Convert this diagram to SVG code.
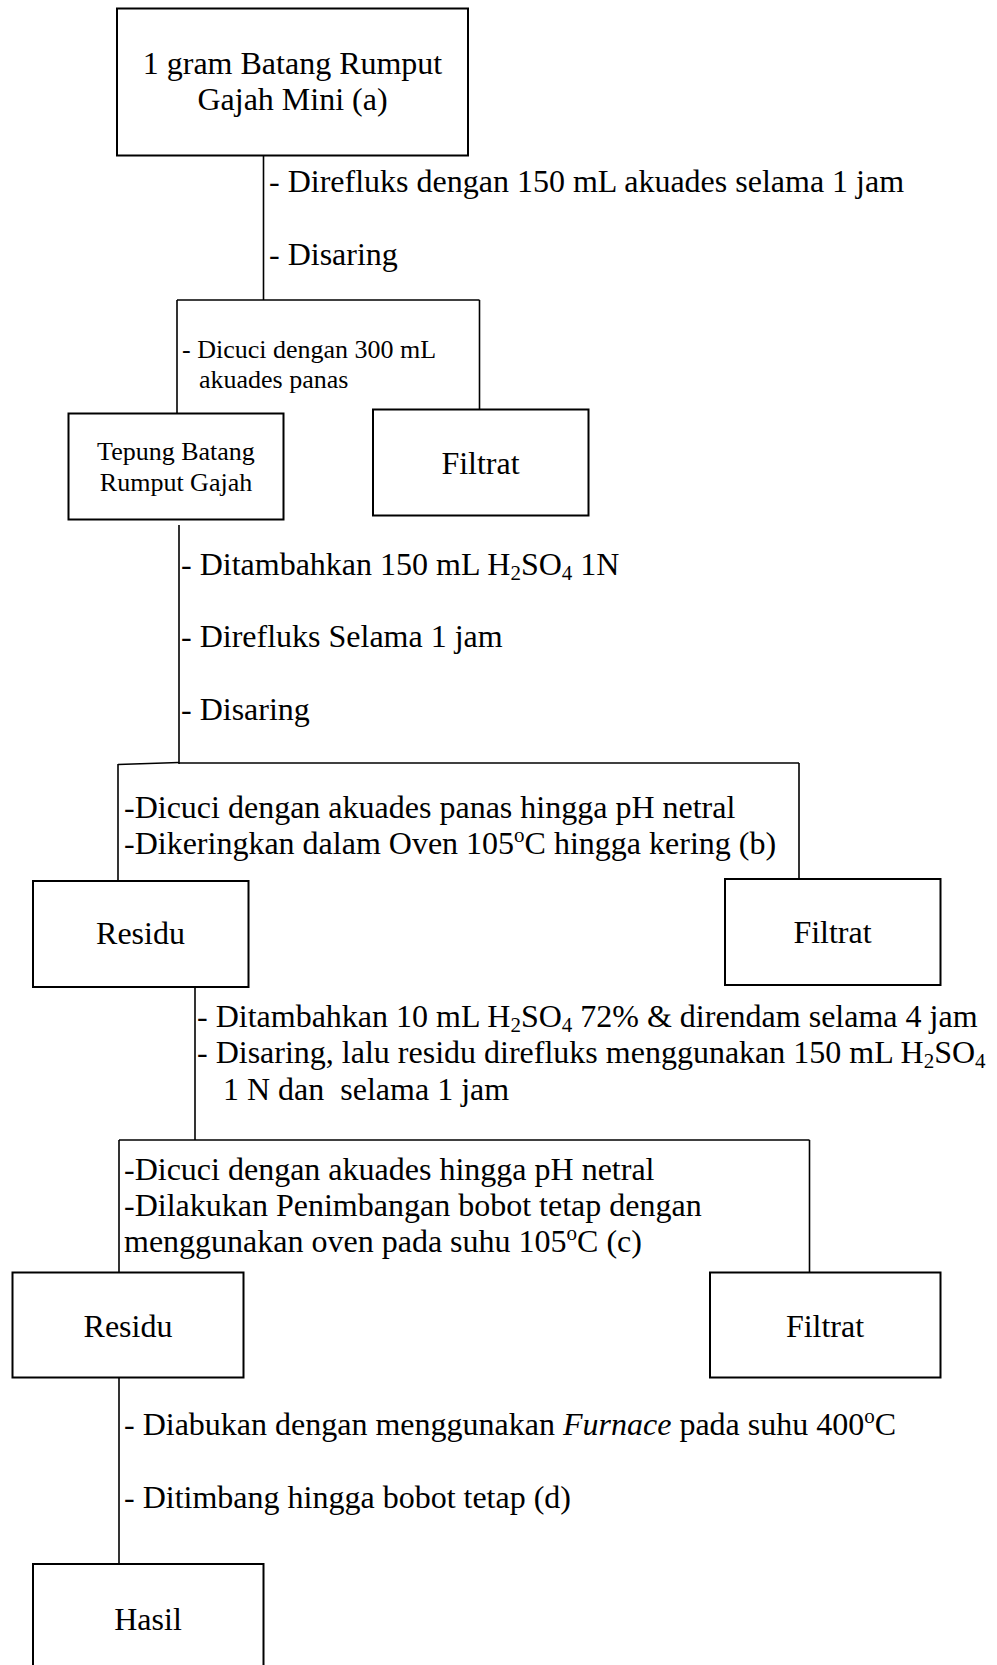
<svg xmlns="http://www.w3.org/2000/svg" width="997" height="1665" viewBox="0 0 997 1665">
<style>
.box{fill:#fff;stroke:#000;stroke-width:2}
.ln{fill:none;stroke:#000;stroke-width:1.6}
text{font-family:"Liberation Serif","Times New Roman",serif;fill:#000}
.t{font-size:32px}
.s{font-size:26px}
.c{text-anchor:middle}
.sub{font-size:21px}
</style>
<rect width="997" height="1665" fill="#fff"/>
<g id="connectors">
<line class="ln" x1="263.5" y1="156" x2="263.5" y2="300"/>
<line class="ln" x1="177" y1="300" x2="479.5" y2="300"/>
<line class="ln" x1="177" y1="300" x2="177" y2="413"/>
<line class="ln" x1="479.5" y1="300" x2="479.5" y2="409"/>
<line class="ln" x1="179" y1="525" x2="179" y2="764"/>
<line class="ln" x1="118" y1="764.5" x2="179" y2="762.5"/>
<line class="ln" x1="179" y1="763" x2="799" y2="763"/>
<line class="ln" x1="118" y1="764" x2="118" y2="881"/>
<line class="ln" x1="799" y1="763" x2="799" y2="879"/>
<line class="ln" x1="195" y1="987" x2="195" y2="1140"/>
<line class="ln" x1="119" y1="1140" x2="809.5" y2="1140"/>
<line class="ln" x1="119" y1="1140" x2="119" y2="1272"/>
<line class="ln" x1="809.5" y1="1140" x2="809.5" y2="1272"/>
<line class="ln" x1="119" y1="1378" x2="119" y2="1564"/>
</g>
<g id="labels">
<text class="t" x="269" y="192">- Direfluks dengan 150 mL akuades selama 1 jam</text>
<text class="t" x="269" y="265">- Disaring</text>
<text class="s" x="182" y="358">- Dicuci dengan 300 mL</text>
<text class="s" x="199" y="388">akuades panas</text>
<text class="t" x="181" y="575">- Ditambahkan 150 mL H<tspan class="sub" dy="5">2</tspan><tspan dy="-5">SO</tspan><tspan class="sub" dy="5">4</tspan><tspan dy="-5"> 1N</tspan></text>
<text class="t" x="181" y="647">- Direfluks Selama 1 jam</text>
<text class="t" x="181" y="720">- Disaring</text>
<text class="t" x="124" y="818">-Dicuci dengan akuades panas hingga pH netral</text>
<text class="t" x="124" y="854">-Dikeringkan dalam Oven 105<tspan class="sub" dy="-12">o</tspan><tspan dy="12">C hingga kering (b)</tspan></text>
<text class="t" x="197" y="1027">- Ditambahkan 10 mL H<tspan class="sub" dy="5">2</tspan><tspan dy="-5">SO</tspan><tspan class="sub" dy="5">4</tspan><tspan dy="-5"> 72% &amp; direndam selama 4 jam</tspan></text>
<text class="t" x="197" y="1063">- Disaring, lalu residu direfluks menggunakan 150 mL H<tspan class="sub" dy="5">2</tspan><tspan dy="-5">SO</tspan><tspan class="sub" dy="5">4</tspan></text>
<text class="t" x="223" y="1100" xml:space="preserve">1 N dan  selama 1 jam</text>
<text class="t" x="124" y="1180">-Dicuci dengan akuades hingga pH netral</text>
<text class="t" x="124" y="1216">-Dilakukan Penimbangan bobot tetap dengan</text>
<text class="t" x="124" y="1252">menggunakan oven pada suhu 105<tspan class="sub" dy="-12">o</tspan><tspan dy="12">C (c)</tspan></text>
<text class="t" x="124" y="1435">- Diabukan dengan menggunakan <tspan font-style="italic">Furnace</tspan> pada suhu 400<tspan class="sub" dy="-12">o</tspan><tspan dy="12">C</tspan></text>
<text class="t" x="124" y="1508">- Ditimbang hingga bobot tetap (d)</text>
</g>
<g id="node-sample">
<rect class="box" x="117" y="8.5" width="351" height="147"/>
<text class="t c" x="292.5" y="74">1 gram Batang Rumput</text>
<text class="t c" x="292.5" y="110">Gajah Mini (a)</text>
</g>
<g id="node-tepung">
<rect class="box" x="68.5" y="413.5" width="215" height="106"/>
<text class="s c" x="176" y="460">Tepung Batang</text>
<text class="s c" x="176" y="491">Rumput Gajah</text>
</g>
<g id="node-filtrat1">
<rect class="box" x="373" y="409.5" width="215.5" height="106"/>
<text class="t c" x="480.5" y="474">Filtrat</text>
</g>
<g id="node-residu1">
<rect class="box" x="33" y="881" width="215.5" height="106"/>
<text class="t c" x="140.5" y="944">Residu</text>
</g>
<g id="node-filtrat2">
<rect class="box" x="725" y="879" width="215.5" height="106"/>
<text class="t c" x="832.5" y="943">Filtrat</text>
</g>
<g id="node-residu2">
<rect class="box" x="12.5" y="1272.5" width="231" height="105"/>
<text class="t c" x="128" y="1337">Residu</text>
</g>
<g id="node-filtrat3">
<rect class="box" x="710" y="1272.5" width="230.5" height="105"/>
<text class="t c" x="825" y="1337">Filtrat</text>
</g>
<g id="node-hasil">
<rect class="box" x="33" y="1564" width="230.5" height="120"/>
<text class="t c" x="148" y="1630">Hasil</text>
</g>
</svg>
